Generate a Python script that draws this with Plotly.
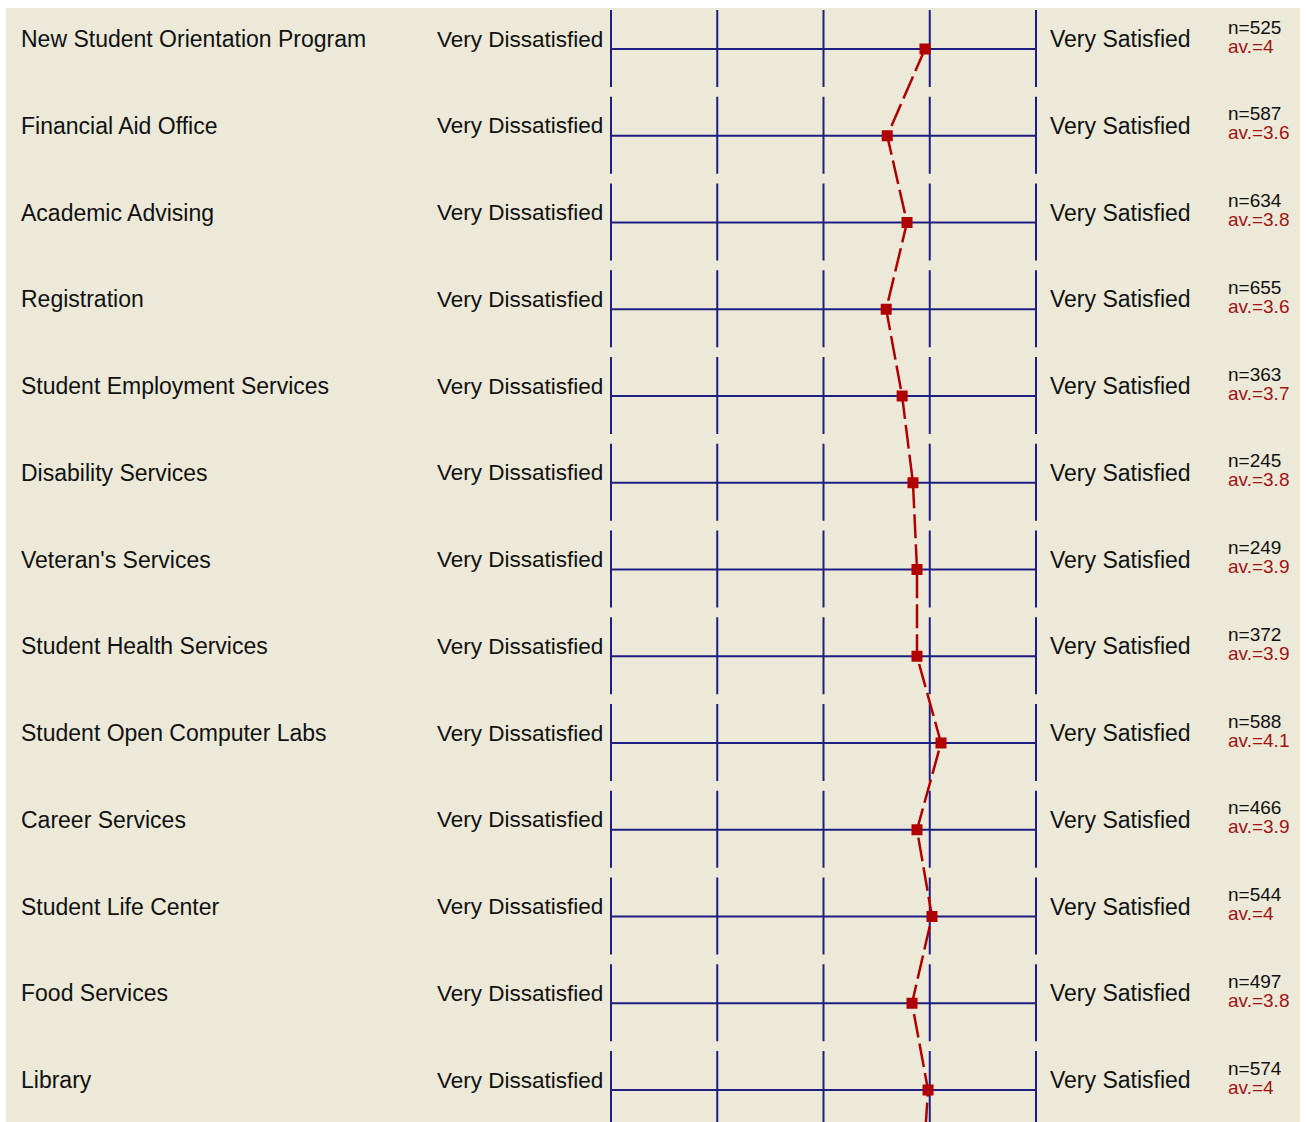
import plotly.graph_objects as go

# ---------------- data ----------------
services = [
    "New Student Orientation Program", "Financial Aid Office", "Academic Advising",
    "Registration", "Student Employment Services", "Disability Services",
    "Veteran's Services", "Student Health Services", "Student Open Computer Labs",
    "Career Services", "Student Life Center", "Food Services", "Library",
]
n_counts = [525, 587, 634, 655, 363, 245, 249, 372, 588, 466, 544, 497, 574]
av_labels = ["4", "3.6", "3.8", "3.6", "3.7", "3.8", "3.9", "3.9", "4.1", "3.9", "4", "3.8", "4"]
means = [3.955, 3.60, 3.786, 3.59, 3.74, 3.842, 3.88, 3.88, 4.106, 3.88, 4.021, 3.833, 3.984]
next_row_mean = [3.93]  # row cut off at the bottom edge (only its connecting line is visible)
scale_points = [1, 2, 3, 4, 5]
left_anchor = "Very Dissatisfied"
right_anchor = "Very Satisfied"

# ---------------- layout constants ----------------
W, H = 1309, 1122
ML, MR, MT, MB = 6, 9, 8, 0
PX_X1, PX_PER_UNIT = 611, 106.25       # pixel of scale point 1, pixels per scale unit
PX_ROW0, PX_PER_ROW = 49, 86.75        # pixel of first row line, pixels per row

x0 = 1 + (ML - PX_X1) / PX_PER_UNIT
x1 = 1 + (W - MR - PX_X1) / PX_PER_UNIT
y_top = (MT - PX_ROW0) / PX_PER_ROW
y_bot = (H - MB - PX_ROW0) / PX_PER_ROW
seg_up, seg_down = 39 / PX_PER_ROW, 38 / PX_PER_ROW

NAVY = "#1e1e82"
RED = "#b00000"
BEIGE = "#ECE9D8"
FONT = "Liberation Sans, Arial, sans-serif"
TXT = "#111111"

rows = list(range(len(services)))

# grid lines (horizontal row lines + vertical tick segments)
gx, gy = [], []
for r in rows + [len(services)]:
    gx += [scale_points[0], scale_points[-1], None]
    gy += [r, r, None]
    for s in scale_points:
        gx += [s, s, None]
        gy += [r - seg_up, r + seg_down, None]

fig = go.Figure()
fig.add_trace(go.Scatter(x=gx, y=gy, mode="lines", line=dict(color=NAVY, width=2),
                         hoverinfo="skip", showlegend=False))
fig.add_trace(go.Scatter(x=means + next_row_mean, y=rows + [len(services)], mode="lines",
                         line=dict(color=RED, width=2.5, dash="24px,6px"),
                         hoverinfo="skip", showlegend=False))
fig.add_trace(go.Scatter(x=means, y=rows, mode="markers",
                         marker=dict(symbol="square", size=11, color=RED),
                         showlegend=False))

def px2paper(px):
    return (px - ML) / (W - ML - MR)

ann = []
for r, name, n, av in zip(rows, services, n_counts, av_labels):
    ann.append(dict(x=px2paper(19), xref="paper", y=r, yref="y", text=name,
                    xanchor="left", yanchor="middle", yshift=10, showarrow=False,
                    font=dict(family=FONT, size=23, color=TXT)))
    ann.append(dict(x=px2paper(605), xref="paper", y=r, yref="y", text=left_anchor,
                    xanchor="right", yanchor="middle", yshift=10, showarrow=False,
                    font=dict(family=FONT, size=22.5, color=TXT)))
    ann.append(dict(x=px2paper(1048), xref="paper", y=r, yref="y", text=right_anchor,
                    xanchor="left", yanchor="middle", yshift=10, showarrow=False,
                    font=dict(family=FONT, size=23, color=TXT)))
    ann.append(dict(x=px2paper(1226), xref="paper", y=r, yref="y", text=f"n={n}",
                    xanchor="left", yanchor="middle", yshift=22, showarrow=False,
                    font=dict(family=FONT, size=19, color=TXT)))
    ann.append(dict(x=px2paper(1226), xref="paper", y=r, yref="y", text=f"av.={av}",
                    xanchor="left", yanchor="middle", yshift=3, showarrow=False,
                    font=dict(family=FONT, size=19, color="#a01414")))

fig.update_layout(
    width=W, height=H,
    margin=dict(l=ML, r=MR, t=MT, b=MB, pad=0),
    paper_bgcolor="white", plot_bgcolor=BEIGE,
    xaxis=dict(range=[x0, x1], visible=False, fixedrange=True),
    yaxis=dict(range=[y_bot, y_top], visible=False, fixedrange=True),
    annotations=ann,
)
fig.write_html("out.html", config={"displayModeBar": False},
               post_script="document.body.style.margin='0px';")
